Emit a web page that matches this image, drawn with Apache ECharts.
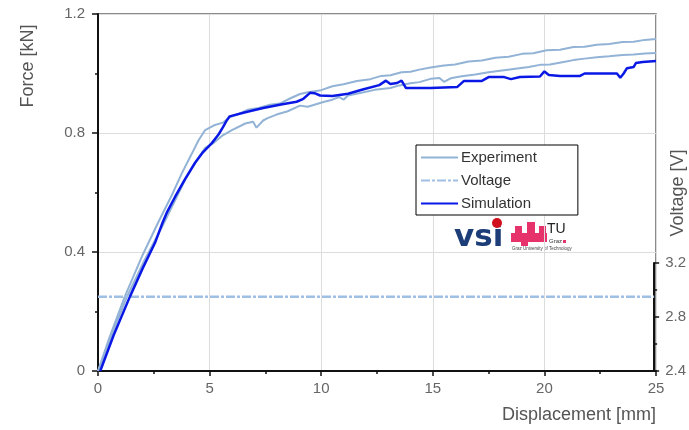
<!DOCTYPE html>
<html>
<head>
<meta charset="utf-8">
<style>
  html, body { margin: 0; padding: 0; background: #fff; }
  #main { width: 689px; height: 430px; }
</style>
<script src="https://cdn.jsdelivr.net/npm/echarts@6/dist/echarts.min.js"></script>
</head>
<body>
<div id="main"></div>
<script>
// displacement [mm] / force [kN]
var expAx = [0, 0.5, 1.2, 2.0, 2.7, 3.3, 3.76, 4.2, 4.5, 4.8, 5.2, 5.6, 5.9, 6.3, 6.7, 7.2, 7.7, 8.15, 8.6, 9.05, 9.4, 10.0, 10.5, 11.0, 11.6, 12.2, 12.7, 13.1, 13.6, 14.0, 14.4, 14.9, 15.5, 16.0, 16.6, 17.2, 17.8, 18.4, 19.0, 19.5, 20.1, 20.7, 21.3, 21.8, 22.35, 22.9, 23.5, 24.0, 24.5, 25.0];
var expAy = [0, 0.11, 0.25, 0.39, 0.50, 0.59, 0.665, 0.73, 0.775, 0.81, 0.826, 0.835, 0.853, 0.864, 0.878, 0.884, 0.895, 0.899, 0.916, 0.931, 0.937, 0.944, 0.957, 0.964, 0.975, 0.981, 0.992, 0.994, 1.004, 1.006, 1.013, 1.02, 1.027, 1.03, 1.04, 1.044, 1.053, 1.056, 1.066, 1.068, 1.078, 1.08, 1.089, 1.09, 1.097, 1.099, 1.106, 1.107, 1.113, 1.116];

var expBx = [0, 0.5, 1.3, 2.1, 2.87, 3.4, 3.9, 4.35, 4.8, 5.15, 5.55, 6.0, 6.6, 6.95, 7.1, 7.4, 7.6, 8.0, 8.5, 9.05, 9.4, 10.1, 10.5, 10.8, 11.0, 11.2, 11.8, 12.4, 13.1, 13.5, 14.0, 14.4, 14.9, 15.3, 15.5, 15.8, 16.3, 16.9, 17.5, 18.1, 18.7, 19.3, 19.8, 20.25, 20.8, 21.3, 21.8, 22.35, 22.9, 23.5, 24.0, 24.5, 25.0];
var expBy = [0, 0.10, 0.25, 0.375, 0.485, 0.565, 0.642, 0.70, 0.75, 0.765, 0.79, 0.81, 0.832, 0.838, 0.818, 0.842, 0.85, 0.862, 0.873, 0.892, 0.888, 0.904, 0.912, 0.921, 0.912, 0.926, 0.935, 0.945, 0.951, 0.96, 0.967, 0.971, 0.982, 0.985, 0.972, 0.984, 0.991, 0.997, 1.004, 1.01, 1.016, 1.022, 1.029, 1.03, 1.038, 1.045, 1.05, 1.055, 1.058, 1.062, 1.064, 1.067, 1.069];

var simX = [0.1, 0.7, 1.43, 2.0, 2.55, 2.9, 3.1, 3.45, 3.9, 4.35, 4.7, 5.1, 5.4, 5.6, 5.75, 5.9, 6.6, 7.4, 8.2, 8.9, 9.2, 9.5, 9.7, 9.95, 10.5, 11.2, 11.9, 12.6, 12.9, 13.1, 13.4, 13.6, 13.8, 14.9, 16.1, 16.4, 17.2, 17.5, 18.2, 18.5, 18.9, 19.8, 20.0, 20.2, 20.7, 21.6, 21.8, 23.25, 23.4, 23.55, 23.7, 24.0, 24.1, 24.4, 25.0];
var simY = [0, 0.12, 0.25, 0.345, 0.43, 0.50, 0.535, 0.585, 0.645, 0.70, 0.735, 0.766, 0.795, 0.82, 0.84, 0.856, 0.87, 0.884, 0.896, 0.905, 0.915, 0.935, 0.934, 0.926, 0.924, 0.932, 0.947, 0.961, 0.976, 0.965, 0.968, 0.976, 0.951, 0.951, 0.955, 0.975, 0.975, 0.988, 0.988, 0.981, 0.988, 0.99, 1.007, 0.995, 0.992, 0.992, 1.0, 1.0, 0.986, 1.0, 1.018, 1.022, 1.035, 1.039, 1.042];

// voltage [V]
var voltX = [0, 25];
var voltY = [2.95, 2.95];

function pairs(xs, ys) {
  var out = [];
  for (var i = 0; i < xs.length; i++) out.push([xs[i], ys[i]]);
  return out;
}

var FONT = '"Liberation Sans", Arial, sans-serif';
var expColor = '#92b3d6';
var simColor = '#0a18e6';
var voltColor = '#9fc0e4';

var chart = echarts.init(document.getElementById('main'));
var option = {
  backgroundColor: '#fff',
  animation: false,
  textStyle: { fontFamily: FONT },
  grid: [
    { left: 98, right: 33, top: 14, bottom: 59, show: true, borderColor: '#666', borderWidth: 1.5, backgroundColor: 'transparent' },
    { left: 98, right: 33, top: 263, bottom: 59 }
  ],
  legend: {
    data: ['Experiment', 'Voltage', 'Simulation'],
    orient: 'vertical',
    left: 416,
    top: 145,
    backgroundColor: '#fff',
    borderColor: '#000',
    borderWidth: 1,
    padding: [5, 41, 4, 4],
    itemWidth: 37,
    itemHeight: 14,
    itemGap: 8,
    itemStyle: { opacity: 0 },
    textStyle: { fontSize: 15, color: '#333', fontFamily: FONT, padding: [0, 0, 0, -2] }
  },
  xAxis: [
    {
      gridIndex: 0, type: 'value', min: 0, max: 25, interval: 5,
      axisLine: { lineStyle: { color: '#111', width: 2 } },
      axisTick: { length: 5, lineStyle: { color: '#111', width: 1.5 } },
      minorTick: { show: true, splitNumber: 2, length: 3, lineStyle: { color: '#111', width: 1.5 } },
      splitLine: { show: true, lineStyle: { color: '#dcdcdc', width: 1 } },
      axisLabel: { fontSize: 15, color: '#666', margin: 10, fontFamily: FONT }
    },
    { gridIndex: 1, type: 'value', min: 0, max: 25, show: false }
  ],
  yAxis: [
    {
      gridIndex: 0, type: 'value', min: 0, max: 1.2, interval: 0.4,
      axisLine: { show: true, onZero: false, lineStyle: { color: '#111', width: 2 } },
      axisTick: { show: true, length: 6, lineStyle: { color: '#111', width: 1.5 } },
      minorTick: { show: true, splitNumber: 2, length: 3, lineStyle: { color: '#111', width: 1.5 } },
      splitLine: { show: true, lineStyle: { color: '#dcdcdc', width: 1 } },
      axisLabel: { fontSize: 15, color: '#666', margin: 13, fontFamily: FONT }
    },
    {
      gridIndex: 1, type: 'value', position: 'right', min: 2.4, max: 3.2, interval: 0.4,
      axisLine: { show: true, onZero: false, lineStyle: { color: '#111', width: 2 } },
      axisTick: { show: true, length: 5, lineStyle: { color: '#111', width: 1.5 } },
      minorTick: { show: true, splitNumber: 2, length: 3, lineStyle: { color: '#111', width: 1.5 } },
      splitLine: { show: false },
      axisLabel: { fontSize: 15, color: '#666', margin: 11, fontFamily: FONT,
        formatter: function (v) { return v.toFixed(1); } }
    }
  ],
  series: [
    { name: 'Experiment', type: 'line', xAxisIndex: 0, yAxisIndex: 0, symbol: 'none',
      lineStyle: { color: expColor, width: 2 }, itemStyle: { color: expColor }, data: pairs(expAx, expAy) },
    { name: 'Experiment', type: 'line', xAxisIndex: 0, yAxisIndex: 0, symbol: 'none',
      lineStyle: { color: expColor, width: 2 }, itemStyle: { color: expColor }, data: pairs(expBx, expBy) },
    { name: 'Voltage', type: 'line', xAxisIndex: 1, yAxisIndex: 1, symbol: 'none',
      lineStyle: { color: voltColor, width: 2.5, type: [9, 2, 3, 2] }, itemStyle: { color: voltColor }, data: pairs(voltX, voltY) },
    { name: 'Simulation', type: 'line', xAxisIndex: 0, yAxisIndex: 0, symbol: 'none', z: 5,
      lineStyle: { color: simColor, width: 2.5 }, itemStyle: { color: simColor }, data: pairs(simX, simY) }
  ],
  graphic: [
    { type: 'text', x: 28, y: 66, rotation: Math.PI / 2,
      style: { text: 'Force [kN]', font: '18px ' + FONT, fill: '#555', align: 'center', verticalAlign: 'middle' } },
    { type: 'text', x: 678, y: 193, rotation: Math.PI / 2,
      style: { text: 'Voltage [V]', font: '18px ' + FONT, fill: '#555', align: 'center', verticalAlign: 'middle' } },
    { type: 'text', x: 656, y: 415,
      style: { text: 'Displacement [mm]', font: '18px ' + FONT, fill: '#555', align: 'right', verticalAlign: 'middle' } },
    // logos
    { type: 'text', x: 454, y: 238,
      style: { text: 'vsi', font: '900 31px "DejaVu Sans", sans-serif', fill: '#1c3d78', verticalAlign: 'middle' } },
    { type: 'circle', shape: { cx: 497, cy: 223, r: 5 }, style: { fill: '#d0101c' } },
    { type: 'rect', shape: { x: 511, y: 233, width: 36, height: 9 }, style: { fill: '#e6336b' } },
    { type: 'rect', shape: { x: 515, y: 226, width: 7, height: 7 }, style: { fill: '#e6336b' } },
    { type: 'rect', shape: { x: 527, y: 222, width: 8, height: 11 }, style: { fill: '#e6336b' } },
    { type: 'rect', shape: { x: 539, y: 226, width: 7, height: 7 }, style: { fill: '#e6336b' } },
    { type: 'rect', shape: { x: 521, y: 242, width: 7, height: 4 }, style: { fill: '#e6336b' } },
    { type: 'text', x: 547, y: 229,
      style: { text: 'TU', font: '14px ' + FONT, fill: '#222', verticalAlign: 'middle' } },
    { type: 'text', x: 549, y: 241,
      style: { text: 'Graz', font: '6px ' + FONT, fill: '#333', verticalAlign: 'middle' } },
    { type: 'rect', shape: { x: 563, y: 240, width: 3, height: 3 }, style: { fill: '#e6336b' } },
    { type: 'text', x: 512, y: 249,
      style: { text: 'Graz University of Technology', font: '4.5px ' + FONT, fill: '#444', verticalAlign: 'middle' } }
  ]
};
chart.setOption(option);
</script>
</body>
</html>
